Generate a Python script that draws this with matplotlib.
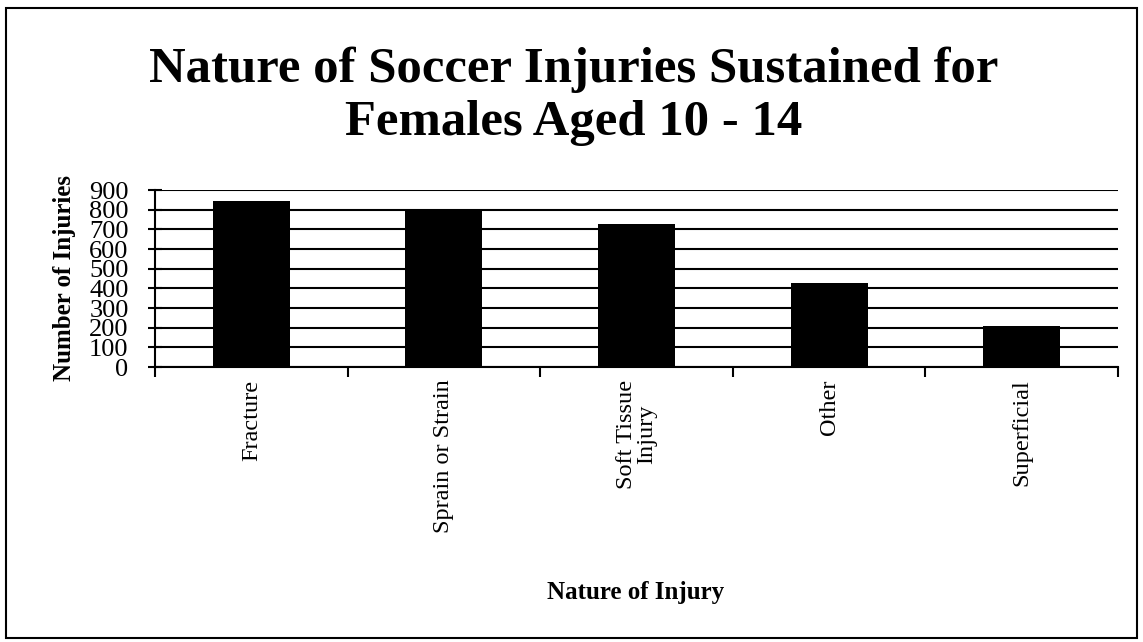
import matplotlib.pyplot as plt
import numpy as np
from matplotlib.patches import Rectangle

# Injury counts by type
categories = ['Fracture', 'Sprain or Strain', 'Soft Tissue\nInjury', 'Other', 'Superficial']
injuries = [845, 802, 727, 427, 208]
yticks = [0, 100, 200, 300, 400, 500, 600, 700, 800, 900]

plt.rcParams['font.family'] = ['Liberation Serif']

fig = plt.figure(figsize=(11.43, 6.42), dpi=100)
ax = fig.add_axes([0.1356, 0.4283, 0.8425, 0.2757])

x = np.arange(len(categories))
ax.bar(x, injuries, width=0.4, color='black', zorder=3)

ax.set_xlim(-0.5, len(categories) - 0.5)
ax.set_ylim(0, 900)
ax.set_yticks(yticks)
ax.set_yticklabels([str(v) for v in yticks], fontsize=19)
ax.yaxis.grid(True, color='black', linewidth=1.5, zorder=0)

ax.set_xticks(x)
ax.set_xticklabels(categories, rotation=90, fontsize=17.5, ha='center', va='top',
                   linespacing=0.95)
ax.tick_params(axis='x', length=0, pad=9)
ax.set_xticks(np.arange(-0.5, len(categories)), minor=True)
ax.tick_params(axis='x', which='minor', length=7, width=1.5, direction='out')
ax.tick_params(axis='y', length=10, width=1.5, direction='inout', pad=14)

for side in ['top', 'right']:
    ax.spines[side].set_visible(False)
ax.spines['left'].set_linewidth(1.5)
ax.spines['bottom'].set_linewidth(1.5)

fig.text(0.056, 0.567, 'Number of Injuries', fontsize=18, fontweight='bold',
         rotation=90, ha='center', va='center')
fig.text(0.556, 0.077, 'Nature of Injury', fontsize=18, fontweight='bold',
         ha='center', va='center')

fig.text(0.502, 0.85, 'Nature of Soccer Injuries Sustained for\nFemales Aged 10 - 14',
         fontsize=36.5, fontweight='bold', ha='center', va='center', linespacing=1.22)

# outer frame around the chart area
fig.patches.append(Rectangle((0.005, 0.006), 0.99, 0.981, transform=fig.transFigure,
                             fill=False, edgecolor='black', linewidth=1.5))

fig.savefig('out.png', dpi=100)
